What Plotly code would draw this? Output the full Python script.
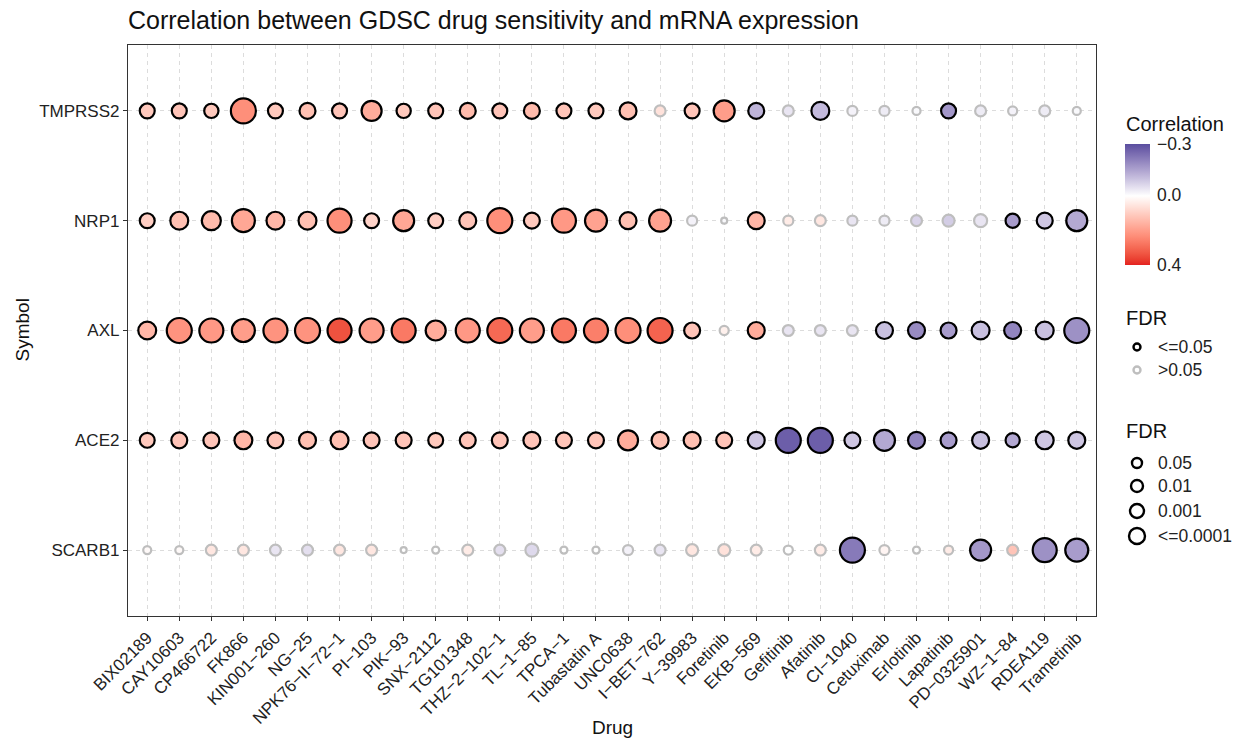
import plotly.graph_objects as go

# ---------------- data ----------------
drugs = ["BIX02189", "CAY10603", "CP466722", "FK866", "KIN001\u2212260", "NG\u221225",
         "NPK76\u2212II\u221272\u22121", "PI\u2212103", "PIK\u221293", "SNX\u22122112", "TG101348",
         "THZ\u22122\u2212102\u22121", "TL\u22121\u221285", "TPCA\u22121", "Tubastatin A", "UNC0638",
         "I\u2212BET\u2212762", "Y\u221239983", "Foretinib", "EKB\u2212569", "Gefitinib", "Afatinib",
         "CI\u22121040", "Cetuximab", "Erlotinib", "Lapatinib", "PD\u22120325901", "WZ\u22121\u221284",
         "RDEA119", "Trametinib"]

symbols = ["SCARB1", "ACE2", "AXL", "NRP1", "TMPRSS2"]  # bottom -> top

# correlation per symbol (one value per drug)
corr_TMPRSS2 = [0.11, 0.12, 0.11, 0.23, 0.11, 0.13, 0.12, 0.17, 0.11, 0.12, 0.14, 0.12, 0.14, 0.12, 0.11,
                0.13, 0.06, 0.12, 0.20, -0.12, -0.04, -0.11, -0.02, -0.03, -0.01, -0.17, -0.03, -0.02, -0.03, -0.01]
corr_NRP1 = [0.10, 0.13, 0.14, 0.18, 0.15, 0.13, 0.23, 0.09, 0.18, 0.10, 0.12, 0.23, 0.11, 0.21, 0.19,
             0.13, 0.19, -0.02, -0.01, 0.15, 0.04, 0.05, -0.04, -0.03, -0.07, -0.08, -0.04, -0.16, -0.09, -0.14]
corr_AXL = [0.15, 0.22, 0.21, 0.20, 0.22, 0.22, 0.34, 0.20, 0.27, 0.17, 0.21, 0.30, 0.20, 0.27, 0.26,
            0.23, 0.31, 0.12, 0.03, 0.17, -0.04, -0.04, -0.04, -0.10, -0.19, -0.16, -0.10, -0.20, -0.10, -0.18]
corr_ACE2 = [0.11, 0.12, 0.12, 0.15, 0.12, 0.13, 0.13, 0.12, 0.12, 0.11, 0.12, 0.12, 0.12, 0.12, 0.12,
             0.17, 0.13, 0.13, 0.12, -0.09, -0.27, -0.27, -0.09, -0.14, -0.20, -0.16, -0.10, -0.14, -0.09, -0.09]
corr_SCARB1 = [0.01, 0.01, 0.05, 0.05, -0.04, -0.05, 0.05, 0.05, 0.00, 0.00, 0.04, -0.05, -0.06, 0.00, 0.00,
               -0.02, -0.04, 0.05, 0.06, 0.04, 0.00, 0.04, -0.22, 0.02, 0.00, 0.04, -0.17, 0.12, -0.18, -0.16]

# -log10(FDR) per symbol
nlf_TMPRSS2 = [1.5, 1.5, 1.35, 4.5, 1.5, 1.75, 1.5, 2.85, 1.35, 1.5, 1.75, 1.5, 1.75, 1.5, 1.5,
               2.0, 0.7, 1.5, 3.15, 1.75, 0.7, 2.25, 0.55, 0.55, 0.25, 1.5, 0.7, 0.4, 0.7, 0.25]
nlf_NRP1 = [1.5, 2.25, 2.55, 3.8, 2.25, 2.25, 4.15, 1.5, 3.15, 1.5, 2.0, 4.5, 1.75, 4.15, 3.45,
            2.0, 3.45, 0.55, 0.0, 2.0, 0.55, 0.7, 0.55, 0.55, 0.7, 0.9, 1.1, 1.35, 1.75, 3.15]
nlf_AXL = [2.25, 4.5, 4.15, 3.8, 4.15, 4.5, 4.15, 4.15, 4.15, 2.85, 4.15, 4.5, 4.15, 4.15, 4.15,
           4.5, 4.5, 1.75, 0.4, 2.0, 0.7, 0.7, 0.7, 2.0, 2.0, 1.75, 2.25, 2.0, 2.25, 4.5]
nlf_ACE2 = [1.5, 1.75, 1.75, 2.25, 1.75, 2.0, 2.25, 1.75, 1.75, 1.5, 1.75, 1.75, 2.0, 1.75, 1.75,
            2.85, 2.0, 2.0, 1.75, 2.0, 4.5, 4.5, 1.75, 3.15, 2.0, 1.75, 2.0, 1.35, 2.25, 2.0]
nlf_SCARB1 = [0.25, 0.25, 0.7, 0.7, 0.7, 0.7, 0.7, 0.7, 0.0, 0.12, 0.7, 0.7, 1.1, 0.12, 0.12,
              0.55, 0.7, 0.9, 0.9, 0.7, 0.4, 0.7, 4.5, 0.55, 0.12, 0.4, 3.15, 0.7, 4.15, 3.8]

corr_by_symbol = {"SCARB1": corr_SCARB1, "ACE2": corr_ACE2, "AXL": corr_AXL,
                  "NRP1": corr_NRP1, "TMPRSS2": corr_TMPRSS2}
nlf_by_symbol = {"SCARB1": nlf_SCARB1, "ACE2": nlf_ACE2, "AXL": nlf_AXL,
                 "NRP1": nlf_NRP1, "TMPRSS2": nlf_TMPRSS2}

corr_ticks = [-0.3, 0.0, 0.4]
fdr_sig_labels = ["<=0.05", ">0.05"]
fdr_size_labels = ["0.05", "0.01", "0.001", "<=0.0001"]

# ---------------- colour scale (Lab interpolation like ggplot) ----------------
LOW = (0x5A, 0x4E, 0x9F)
MID = (255, 255, 255)
HIGH = (0xE4, 0x22, 0x20)


def _lin(c):
    c = c / 255.0
    return c / 12.92 if c <= 0.04045 else ((c + 0.055) / 1.055) ** 2.4


def _delin(c):
    c = 12.92 * c if c <= 0.0031308 else 1.055 * c ** (1 / 2.4) - 0.055
    return max(0, min(255, round(c * 255)))


def rgb2lab(rgb):
    r, g, b = (_lin(v) for v in rgb)
    X = (0.4124 * r + 0.3576 * g + 0.1805 * b) / 0.95047
    Y = (0.2126 * r + 0.7152 * g + 0.0722 * b)
    Z = (0.0193 * r + 0.1192 * g + 0.9505 * b) / 1.08883

    def f(t):
        return t ** (1 / 3) if t > 0.008856 else 7.787 * t + 16 / 116
    fx, fy, fz = f(X), f(Y), f(Z)
    return (116 * fy - 16, 500 * (fx - fy), 200 * (fy - fz))


def lab2rgb(lab):
    L, a, b = lab
    fy = (L + 16) / 116
    fx = fy + a / 500
    fz = fy - b / 200

    def finv(t):
        return t ** 3 if t ** 3 > 0.008856 else (t - 16 / 116) / 7.787
    X, Y, Z = finv(fx) * 0.95047, finv(fy), finv(fz) * 1.08883
    r = 3.2406 * X - 1.5372 * Y - 0.4986 * Z
    g = -0.9689 * X + 1.8758 * Y + 0.0415 * Z
    bb = 0.0557 * X - 0.2040 * Y + 1.0570 * Z
    return tuple(_delin(max(0.0, v)) for v in (r, g, bb))


def interp(c1, c2, t):
    l1, l2 = rgb2lab(c1), rgb2lab(c2)
    lab = tuple(l1[i] + (l2[i] - l1[i]) * t for i in range(3))
    r, g, b = lab2rgb(lab)
    return f"rgb({r},{g},{b})"


# colour value plotted = -correlation so that -0.3 sits at the top of the bar
cmin, cmax = -max(corr_ticks), -min(corr_ticks)
pos0 = (0 - cmin) / (cmax - cmin)
colorscale = []
N = 12
for i in range(N + 1):
    colorscale.append([pos0 * i / N, interp(HIGH, MID, i / N)])
for i in range(1, N + 1):
    colorscale.append([pos0 + (1 - pos0) * i / N, interp(MID, LOW, i / N)])


def size_scale(v):
    # area-proportional size scale (outer diameter 8..27 px), minus border width
    return (64 + 148 * v) ** 0.5 - 2


xs, ys, cs, ss, lcs, texts = [], [], [], [], [], []
for yi, sym in enumerate(symbols):
    for xi, d in enumerate(drugs):
        c = corr_by_symbol[sym][xi]
        v = nlf_by_symbol[sym][xi]
        xs.append(xi)
        ys.append(yi)
        cs.append(-c)
        ss.append(size_scale(v))
        lcs.append("black" if v >= 1.301 else "#BEBEBE")
        texts.append(f"{sym} / {d}<br>Correlation: {c:.2f}<br>FDR: {10 ** (-v):.2g}")

FONT = "Liberation Sans, Arial, Helvetica, sans-serif"

# plot area in pixels: x 128..1096, y 45..616
PX0, PX1, PY0, PY1 = 128, 1096, 45, 616


def px(xp):
    return (xp - PX0) / (PX1 - PX0)


def py(yp):
    return (PY1 - yp) / (PY1 - PY0)


fig = go.Figure()
fig.add_trace(go.Scatter(
    x=xs, y=ys, mode="markers", text=texts, hoverinfo="text", showlegend=False,
    marker=dict(
        size=ss, color=cs, colorscale=colorscale, cmin=cmin, cmax=cmax,
        line=dict(color=lcs, width=2.2), opacity=1,
        colorbar=dict(
            tickvals=[-t for t in corr_ticks],
            ticktext=[("\u2212" if t < 0 else "") + f"{abs(t):.1f}" for t in corr_ticks],
            tickfont=dict(size=17.5, family=FONT, color="#222"),
            ticks="outside", ticklen=4, tickcolor="rgba(0,0,0,0)",
            outlinewidth=0, thickness=25,
            lenmode="pixels", len=121,
            x=px(1125), xanchor="left", xref="paper",
            y=py(204), yanchor="middle", yref="paper",
            ypad=0, xpad=0,
        ),
    ),
))

shapes = []
annotations = []

# white tick marks inside the colour bar (as in the ggplot guide)
for t in corr_ticks:
    yy = 143 + (t - min(corr_ticks)) / (max(corr_ticks) - min(corr_ticks)) * 121
    for xa, xb in [(1125, 1130), (1145, 1150)]:
        shapes.append(dict(type="line", xref="paper", yref="paper", x0=px(xa), x1=px(xb),
                           y0=py(yy), y1=py(yy), line=dict(color="white", width=1)))

# colour bar title
annotations.append(dict(x=px(1124), y=py(124), xref="paper", yref="paper", text="Correlation",
                        showarrow=False, xanchor="left", yanchor="middle",
                        font=dict(size=20, family=FONT, color="#111")))

# legend 1: significance (border colour)
annotations.append(dict(x=px(1124), y=py(318), xref="paper", yref="paper", text="FDR",
                        showarrow=False, xanchor="left", yanchor="middle",
                        font=dict(size=20, family=FONT, color="#111")))
for lab, yy, col in zip(fdr_sig_labels, [347, 370], ["black", "#BEBEBE"]):
    shapes.append(dict(type="circle", xref="paper", yref="paper", xsizemode="pixel", ysizemode="pixel",
                       xanchor=px(1137), yanchor=py(yy), x0=-3.5, x1=3.5, y0=-3.5, y1=3.5,
                       line=dict(color=col, width=2.4), fillcolor="white"))
    annotations.append(dict(x=px(1156), y=py(yy), xref="paper", yref="paper", text=lab,
                            showarrow=False, xanchor="left", yanchor="middle",
                            font=dict(size=17.5, family=FONT, color="#222")))

# legend 2: size
annotations.append(dict(x=px(1124), y=py(431), xref="paper", yref="paper", text="FDR",
                        showarrow=False, xanchor="left", yanchor="middle",
                        font=dict(size=20, family=FONT, color="#111")))
for lab, yy, r in zip(fdr_size_labels, [463, 486, 511, 536], [5, 6, 7, 8]):
    shapes.append(dict(type="circle", xref="paper", yref="paper", xsizemode="pixel", ysizemode="pixel",
                       xanchor=px(1137), yanchor=py(yy), x0=-r, x1=r, y0=-r, y1=r,
                       line=dict(color="black", width=2.4), fillcolor="white"))
    annotations.append(dict(x=px(1156), y=py(yy), xref="paper", yref="paper", text=lab,
                            showarrow=False, xanchor="left", yanchor="middle",
                            font=dict(size=17.5, family=FONT, color="#222")))

# axis titles
annotations.append(dict(x=0.5, y=py(728), xref="paper", yref="paper", text="Drug", showarrow=False,
                        xanchor="center", yanchor="middle", font=dict(size=19, family=FONT, color="#111")))
annotations.append(dict(x=px(22), y=0.5, xref="paper", yref="paper", text="Symbol", showarrow=False,
                        textangle=-90, xanchor="center", yanchor="middle",
                        font=dict(size=19, family=FONT, color="#111")))

fig.update_layout(
    width=1239, height=743,
    margin=dict(l=PX0, r=1239 - PX1, t=PY0, b=743 - PY1, autoexpand=False),
    paper_bgcolor="white", plot_bgcolor="white",
    title=dict(text="Correlation between GDSC drug sensitivity and mRNA expression",
               x=PX0 / 1239, xanchor="left", xref="container",
               y=1 - 20 / 743, yanchor="middle", yref="container",
               font=dict(size=25, family=FONT, color="#111")),
    xaxis=dict(range=[-0.6, len(drugs) - 0.4], tickmode="array", tickvals=list(range(len(drugs))),
               ticktext=drugs, tickangle=-45, tickfont=dict(size=17, family=FONT, color="#222"),
               showgrid=True, gridcolor="#DCDCDC", griddash="4px,4px", gridwidth=1,
               showline=True, linecolor="#333", linewidth=1.3, mirror=True,
               ticks="outside", ticklen=4, tickcolor="#333", tickwidth=1.2,
               zeroline=False, automargin=False),
    yaxis=dict(range=[-0.6, len(symbols) - 0.4], tickmode="array", tickvals=list(range(len(symbols))),
               ticktext=symbols, tickfont=dict(size=17, family=FONT, color="#222"),
               showgrid=True, gridcolor="#DCDCDC", griddash="4px,4px", gridwidth=1,
               showline=True, linecolor="#333", linewidth=1.3, mirror=True,
               ticks="outside", ticklen=4, tickcolor="#333", tickwidth=1.2,
               zeroline=False, automargin=False),
    shapes=shapes, annotations=annotations,
    font=dict(family=FONT),
)

fig.write_html("out.html")
